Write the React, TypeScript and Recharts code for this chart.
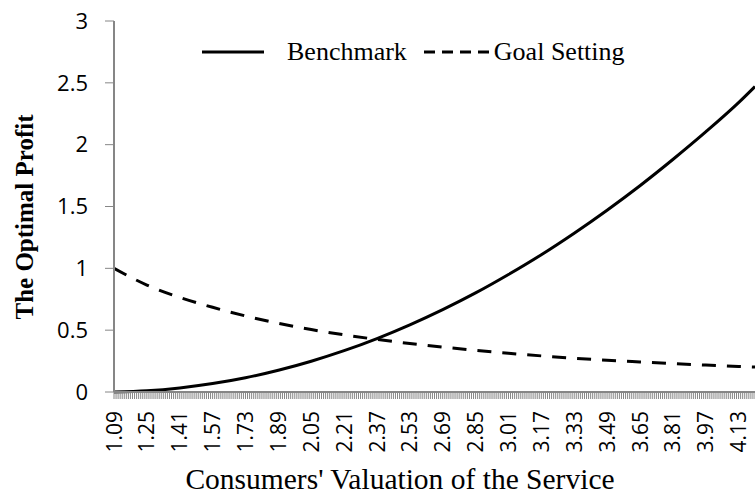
import React from 'react';
import { LineChart, Line, XAxis, YAxis } from 'recharts';

// x positions read at every labelled category (plus the last one at the right edge)
const sampleX = ['1.09', '1.25', '1.41', '1.57', '1.73', '1.89', '2.05', '2.21', '2.37', '2.53',
    '2.69', '2.85', '3.01', '3.17', '3.33', '3.49', '3.65', '3.81', '3.97', '4.13', '4.21'];
const benchmark = [0, 0.01, 0.033, 0.068, 0.115, 0.176, 0.249, 0.334, 0.432, 0.543,
    0.666, 0.801, 0.95, 1.11, 1.284, 1.47, 1.668, 1.88, 2.103, 2.34, 2.47];
const goalSetting = [1, 0.865, 0.765, 0.685, 0.615, 0.555, 0.505, 0.462, 0.425, 0.392,
    0.363, 0.337, 0.313, 0.292, 0.273, 0.257, 0.243, 0.23, 0.218, 0.207, 0.202];

const xTickLabels = ['1.09', '1.25', '1.41', '1.57', '1.73', '1.89', '2.05', '2.21', '2.37', '2.53',
    '2.69', '2.85', '3.01', '3.17', '3.33', '3.49', '3.65', '3.81', '3.97', '4.13'];
const yTicks = [0, 0.5, 1, 1.5, 2, 2.5, 3];

// category axis runs 1.09 .. 4.21 in steps of 0.01 (one tick mark each)
const firstCat = 109;
const lastCat = 421;

const buildData = () => {
    const rows: { x: string; benchmark?: number; goal?: number }[] = [];
    for (let c = firstCat; c <= lastCat; c++) {
        const x = (c / 100).toFixed(2);
        const i = sampleX.indexOf(x);
        rows.push(i >= 0 ? { x, benchmark: benchmark[i], goal: goalSetting[i] } : { x });
    }
    return rows;
};

const data = buildData();

const axisGray = '#868686';
const tickFont = '"Open Sans", sans-serif';
const serif = '"Liberation Serif", "Times New Roman", serif';

const XTick = (props: any) => {
    const { x, y, payload } = props;
    if (!xTickLabels.includes(payload.value)) return <g />;
    return (
        <g transform={`translate(${x},${y})`}>
            <text
                x={-10}
                y={0}
                dy="0.36em"
                transform="rotate(-90)"
                textAnchor="end"
                fontSize={21}
                fontFamily={tickFont}
                fill="#000"
            >
                {payload.value}
            </text>
        </g>
    );
};

const LegendBox = () => (
    <div
        style={{
            position: 'absolute',
            top: 37,
            left: 202,
            display: 'flex',
            alignItems: 'center',
            fontFamily: serif,
            fontSize: 26,
            lineHeight: '30px',
            color: '#000',
            whiteSpace: 'nowrap',
        }}
    >
        <svg width={62} height={6} style={{ marginRight: 23 }}>
            <line x1={0} y1={3} x2={62} y2={3} stroke="#000" strokeWidth={3} />
        </svg>
        <span style={{ marginRight: 17 }}>Benchmark</span>
        <svg width={66} height={6} style={{ marginRight: 4 }}>
            <line x1={0} y1={3} x2={66} y2={3} stroke="#000" strokeWidth={3} strokeDasharray="11 7" />
        </svg>
        <span>Goal Setting</span>
    </div>
);

export default function App() {
    return (
        <div style={{ position: 'absolute', left: 0, top: 0, width: 755, height: 496, background: '#fff' }}>
            <LineChart
                width={755}
                height={496}
                data={data}
                margin={{ top: 21, right: 0, left: 0, bottom: 0 }}
                style={{ fontFamily: tickFont }}
            >
                <XAxis
                    dataKey="x"
                    interval={0}
                    height={104}
                    tick={<XTick />}
                    tickSize={7}
                    tickMargin={2}
                    tickLine={{ stroke: axisGray, strokeWidth: 1 }}
                    axisLine={{ stroke: axisGray, strokeWidth: 2 }}
                    label={{
                        content: () => (
                            <text x={400} y={489} textAnchor="middle" fontFamily={serif} fontSize={29.5} fill="#000">
                                Consumers' Valuation of the Service
                            </text>
                        ),
                    }}
                />
                <YAxis
                    width={114}
                    domain={[0, 3]}
                    ticks={yTicks}
                    tickSize={9}
                    tickMargin={17}
                    tick={{ fill: '#000', fontSize: 22, fontFamily: tickFont }}
                    tickLine={{ stroke: axisGray }}
                    axisLine={{ stroke: axisGray, strokeWidth: 2 }}
                    label={{
                        content: () => (
                            <text
                                x={24}
                                y={217}
                                transform="rotate(-90 24 217)"
                                textAnchor="middle"
                                dominantBaseline="central"
                                fontFamily={serif}
                                fontWeight="bold"
                                fontSize={25}
                                fill="#000"
                            >
                                The Optimal Profit
                            </text>
                        ),
                    }}
                />
                <Line
                    type="monotone"
                    dataKey="benchmark"
                    name="Benchmark"
                    stroke="#000"
                    strokeWidth={3}
                    dot={false}
                    connectNulls
                    isAnimationActive={false}
                />
                <Line
                    type="monotone"
                    dataKey="goal"
                    name="Goal Setting"
                    stroke="#000"
                    strokeWidth={3}
                    strokeDasharray="14 11"
                    dot={false}
                    connectNulls
                    isAnimationActive={false}
                />
            </LineChart>
            <LegendBox />
        </div>
    );
}
